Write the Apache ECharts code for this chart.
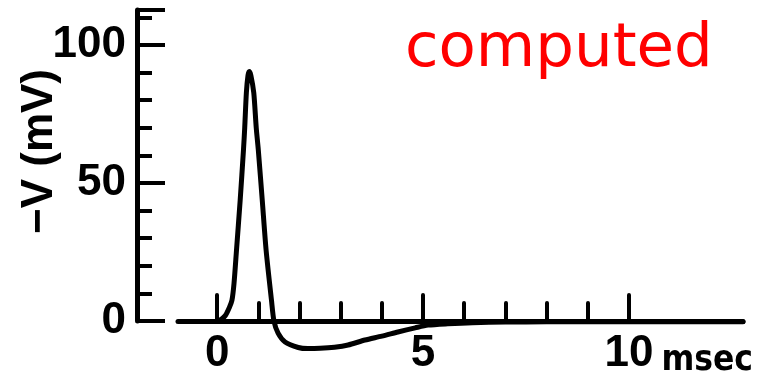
<!DOCTYPE html>
<html>
<head>
<meta charset="utf-8">
<title>Computed action potential</title>
<script src="https://cdn.jsdelivr.net/npm/echarts@6/dist/echarts.min.js"></script>
<style>
  html, body { margin: 0; padding: 0; background: #ffffff; }
  #chart { width: 760px; height: 377px; }
</style>
</head>
<body>
<div id="chart"></div>
<script>
// Time after the stimulus (msec) and membrane displacement -V (mV)
const timeMs = [0.0, 0.1, 0.2, 0.3, 0.36, 0.41, 0.47, 0.56, 0.64, 0.67, 0.71, 0.75, 0.78,
                0.82, 0.89, 0.95, 1.0, 1.1, 1.19, 1.32, 1.38, 1.48, 1.65, 1.97, 2.2, 2.5, 2.85,
                3.18, 3.59, 4.0, 4.39, 4.81, 5.12, 5.6, 6.2, 7.0, 8.0, 10.0, 12.77];
const minusV = [0.0, 0.6, 2.0, 5.0, 7.5, 13.6, 25.6, 43.8, 62.0, 70.0, 82.7, 89.0, 90.4,
                89.0, 82.7, 70.0, 62.0, 43.0, 25.6, 7.5, 0.0, -4.4, -7.6, -9.6, -10.0, -9.9, -9.5,
                -8.7, -6.9, -5.5, -4.0, -2.5, -1.5, -1.0, -0.6, -0.4, -0.3, -0.3, -0.3];

// Axis ticks and labels
const xMajorTicks = [0, 5, 10];
const xMinorTicks = [1, 2, 3, 4, 6, 7, 8, 9];
const xRange = [-0.95, 12.77];
const yRange = [0, 112.7];
const yLabelStep = 50;
const yMinorSplit = 5;

const titleText = 'computed';
const xUnit = 'msec';
const yName = '\u2212V (mV)';

const numFont = '"Liberation Sans", Arial, sans-serif';
const unitFont = '"DejaVu Sans Condensed", "DejaVu Sans", sans-serif';

const trace = timeMs.map((t, i) => [t, minusV[i]]);

const chart = echarts.init(document.getElementById('chart'), null, { renderer: 'canvas' });

chart.setOption({
  backgroundColor: '#ffffff',
  animation: false,
  title: {
    text: titleText,
    left: 405,
    top: 20,
    padding: 0,
    textStyle: {
      fontFamily: '"DejaVu Sans", sans-serif',
      fontSize: 61,
      fontWeight: 'normal',
      color: '#ff0000'
    }
  },
  grid: { left: 178, right: 17, top: 10, height: 311, outerBoundsMode: 'none', containLabel: false },
  xAxis: [
    {
      type: 'value',
      position: 'bottom',
      min: xRange[0],
      max: xRange[1],
      axisLine: { show: true, onZero: false, lineStyle: { color: '#000', width: 5 } },
      axisTick: {
        show: true, inside: true, length: 26, customValues: xMajorTicks,
        lineStyle: { color: '#000', width: 4, cap: 'round' }
      },
      axisLabel: {
        show: true, customValues: xMajorTicks, margin: 11,
        fontFamily: numFont, fontWeight: 'bold', fontSize: 44, color: '#000'
      },
      splitLine: { show: false },
      name: xUnit,
      nameLocation: 'end',
      nameGap: 10,
      nameMoveOverlap: false,
      nameTextStyle: {
        fontFamily: unitFont, fontWeight: 'bold', fontSize: 35, color: '#000',
        align: 'right', verticalAlign: 'top', padding: [22, 0, 0, 0]
      }
    },
    {
      type: 'value',
      position: 'bottom',
      min: xRange[0],
      max: xRange[1],
      axisLine: { show: false, onZero: false },
      axisTick: {
        show: true, inside: true, length: 18, customValues: xMinorTicks,
        lineStyle: { color: '#000', width: 4, cap: 'round' }
      },
      axisLabel: { show: false },
      splitLine: { show: false }
    }
  ],
  yAxis: {
    type: 'value',
    min: yRange[0],
    max: yRange[1],
    interval: yLabelStep,
    offset: 41,
    axisLine: { show: true, onZero: false, lineStyle: { color: '#000', width: 5 } },
    axisTick: { show: true, inside: true, length: 28, lineStyle: { color: '#000', width: 4 } },
    minorTick: { show: true, splitNumber: yMinorSplit, length: 15, lineStyle: { color: '#000', width: 4 } },
    axisLabel: {
      margin: 11, padding: [0, 0, 6, 0],
      fontFamily: numFont, fontWeight: 'bold', fontSize: 44, color: '#000'
    },
    splitLine: { show: false },
    minorSplitLine: { show: false },
    name: yName,
    nameLocation: 'middle',
    nameRotate: 90,
    nameGap: 75,
    nameMoveOverlap: false,
    nameTextStyle: {
      fontFamily: '"Liberation Sans", sans-serif', fontWeight: 'bold', fontSize: 44, color: '#000',
      padding: [0, 0, 0, 28]
    }
  },
  series: [
    {
      type: 'line',
      xAxisIndex: 0,
      data: trace,
      clip: false,
      smooth: 0.25,
      showSymbol: false,
      symbol: 'none',
      lineStyle: { color: '#000', width: 5, join: 'round', cap: 'round' }
    }
  ]
});
</script>
</body>
</html>
